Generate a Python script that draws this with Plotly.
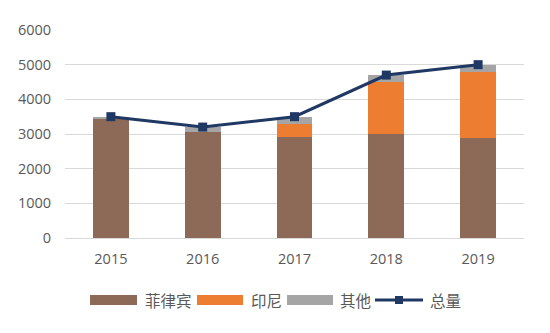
import plotly.graph_objects as go

years = ["2015", "2016", "2017", "2018", "2019"]
philippines = [3450, 3050, 2900, 3000, 2880]
indonesia = [0, 0, 400, 1500, 1920]
others = [50, 150, 200, 200, 200]
total = [3500, 3200, 3500, 4700, 5000]

series_names = ["菲律宾", "印尼", "其他", "总量"]
bar_colors = ["#8C6A57", "#ED7D31", "#A5A5A5"]
line_color = "#1F3864"

font_family = "Open Sans, Noto Sans CJK SC, sans-serif"
text_grey = "#595959"

W, H = 550, 333
L, R, T, B = 65, 26, 30, 95
plot_w, plot_h = W - L - R, H - T - B


def px_x(px):
    return (px - L) / plot_w


def px_y(py):
    return (H - B - py) / plot_h


fig = go.Figure()
for name, vals, col in zip(series_names[:3], [philippines, indonesia, others], bar_colors):
    fig.add_trace(go.Bar(x=years, y=vals, name=name, marker_color=col,
                         marker_line_width=0, width=0.39, showlegend=False))
fig.add_trace(go.Scatter(
    x=years, y=total, name=series_names[3], mode="lines+markers",
    line=dict(color=line_color, width=3),
    marker=dict(symbol="square", size=9, color=line_color),
    showlegend=False,
))

# Legend row drawn with shapes and text below the axis
shapes = []
annotations = []
leg_y = 300
swatches = [(90, 137, 143), (197, 243, 249), (287, 333, 338)]
for (x0, x1, tx), col, name in zip(swatches, bar_colors, series_names[:3]):
    shapes.append(dict(type="rect", xref="paper", yref="paper",
                       x0=px_x(x0), x1=px_x(x1), y0=px_y(leg_y + 5), y1=px_y(leg_y - 5),
                       fillcolor=col, line=dict(width=0)))
    annotations.append(dict(xref="paper", yref="paper", x=px_x(tx), y=px_y(leg_y),
                            xanchor="left", yanchor="middle", text=name, showarrow=False,
                            font=dict(size=15.5, color=text_grey,
                                      family="Noto Sans CJK SC, sans-serif")))
shapes.append(dict(type="line", xref="paper", yref="paper",
                   x0=px_x(375), x1=px_x(423), y0=px_y(leg_y), y1=px_y(leg_y),
                   line=dict(color=line_color, width=3)))
shapes.append(dict(type="rect", xref="paper", yref="paper",
                   x0=px_x(395), x1=px_x(403), y0=px_y(leg_y + 4), y1=px_y(leg_y - 4),
                   fillcolor=line_color, line=dict(width=0)))
annotations.append(dict(xref="paper", yref="paper", x=px_x(428), y=px_y(leg_y),
                        xanchor="left", yanchor="middle", text=series_names[3], showarrow=False,
                        font=dict(size=15.5, color=text_grey,
                                  family="Noto Sans CJK SC, sans-serif")))

fig.update_layout(
    barmode="stack",
    width=W, height=H,
    margin=dict(l=L, r=R, t=T, b=B),
    paper_bgcolor="white", plot_bgcolor="white",
    font=dict(family=font_family, color=text_grey, size=14.5),
    xaxis=dict(showgrid=False, showline=False, ticks="outside", ticklen=8,
               tickcolor="rgba(0,0,0,0)", tickfont=dict(size=14.5)),
    yaxis=dict(range=[0, 6000], dtick=1000, showgrid=True, gridcolor="#D9D9D9",
               gridwidth=1, zeroline=True, zerolinecolor="#D9D9D9", zerolinewidth=1,
               ticks="outside", ticklen=10, tickcolor="rgba(0,0,0,0)",
               tickfont=dict(size=14.5)),
    showlegend=False,
    shapes=shapes,
    annotations=annotations,
)

fig.write_html("out.html")
